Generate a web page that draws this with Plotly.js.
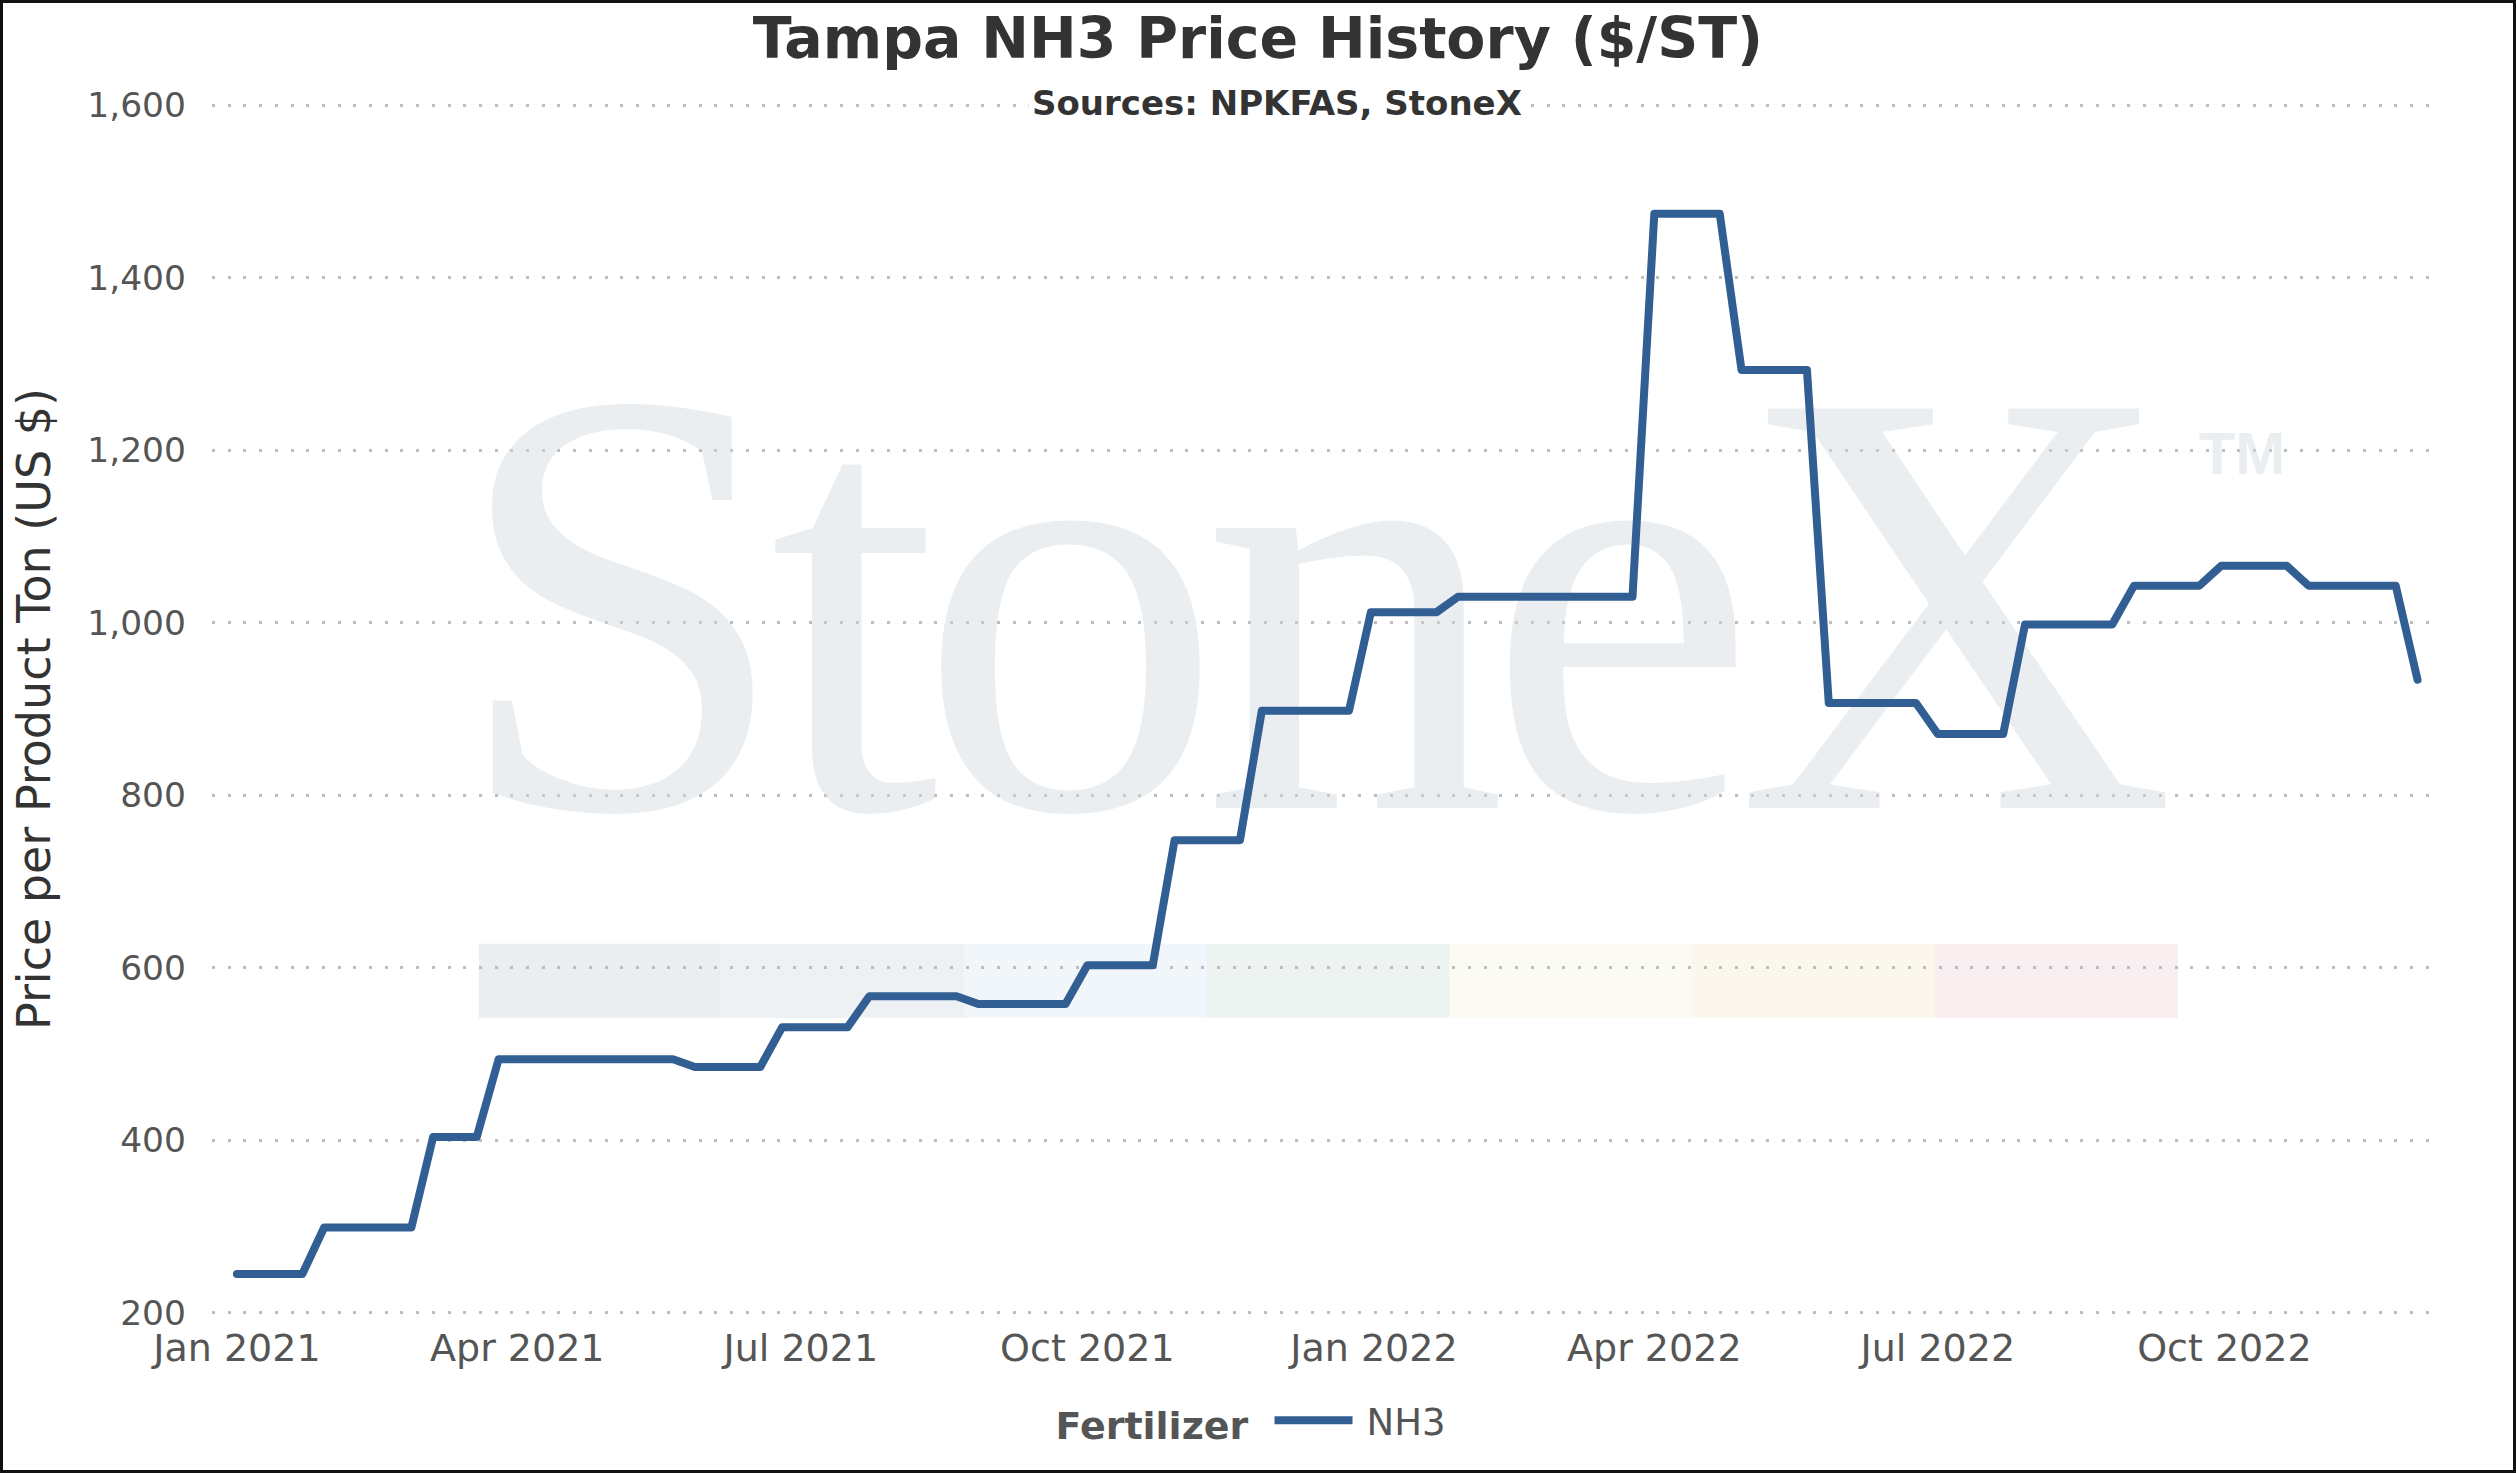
<!DOCTYPE html>
<html>
<head>
<meta charset="utf-8">
<script src="https://cdn.plot.ly/plotly-3.0.1.min.js"></script>
<style>
  html, body { margin: 0; padding: 0; background: #fff; }
  #wrap { position: relative; width: 2516px; height: 1473px; }
  #graf { width: 2516px; height: 1473px; }
  #frame { position: absolute; left: 0; top: 0; right: 0; bottom: 0; border: 3px solid #111; pointer-events: none; }
  .scatterlayer .js-line { stroke-linecap: round; stroke-linejoin: round; }
</style>
</head>
<body>
<div id="wrap">
  <div id="graf"></div>
  <div id="frame"></div>
</div>
<script>
// weekly Tampa NH3 prices, $/short ton
let weekDates = [
  '2021-01-01','2021-01-08','2021-01-15','2021-01-22','2021-01-29',
  '2021-02-05','2021-02-12','2021-02-19','2021-02-26',
  '2021-03-05','2021-03-12','2021-03-19','2021-03-26',
  '2021-04-02','2021-04-09','2021-04-16','2021-04-23','2021-04-30',
  '2021-05-07','2021-05-14','2021-05-21','2021-05-28',
  '2021-06-04','2021-06-11','2021-06-18','2021-06-25',
  '2021-07-02','2021-07-09','2021-07-16','2021-07-23','2021-07-30',
  '2021-08-06','2021-08-13','2021-08-20','2021-08-27',
  '2021-09-03','2021-09-10','2021-09-17','2021-09-24',
  '2021-10-01','2021-10-08','2021-10-15','2021-10-22','2021-10-29',
  '2021-11-05','2021-11-12','2021-11-19','2021-11-26',
  '2021-12-03','2021-12-10','2021-12-17','2021-12-24','2021-12-31',
  '2022-01-07','2022-01-14','2022-01-21','2022-01-28',
  '2022-02-04','2022-02-11','2022-02-18','2022-02-25',
  '2022-03-04','2022-03-11','2022-03-18','2022-03-25',
  '2022-04-01','2022-04-08','2022-04-15','2022-04-22','2022-04-29',
  '2022-05-06','2022-05-13','2022-05-20','2022-05-27',
  '2022-06-03','2022-06-10','2022-06-17','2022-06-24',
  '2022-07-01','2022-07-08','2022-07-15','2022-07-22','2022-07-29',
  '2022-08-05','2022-08-12','2022-08-19','2022-08-26',
  '2022-09-02','2022-09-09','2022-09-16','2022-09-23','2022-09-30',
  '2022-10-07','2022-10-14','2022-10-21','2022-10-28',
  '2022-11-04','2022-11-11','2022-11-18','2022-11-25',
  '2022-12-02'
];

let nh3Price = [
  245,245,245,245,299,
  299,299,299,299,
  404,404,404,494,
  494,494,494,494,494,
  494,494,494,485,
  485,485,485,531,
  531,531,531,567,567,
  567,567,567,558,
  558,558,558,558,
  603,603,603,603,748,
  748,748,748,898,
  898,898,898,898,1012,
  1012,1012,1012,1030,
  1030,1030,1030,1030,
  1030,1030,1030,1030,
  1474,1474,1474,1474,1293,
  1293,1293,1293,907,
  907,907,907,907,
  871,871,871,871,998,
  998,998,998,998,
  1043,1043,1043,1043,1066,
  1066,1066,1066,1043,
  1043,1043,1043,1043,
  934
];

let seriesName = 'NH3';
let yTicks = [200, 400, 600, 800, 1000, 1200, 1400, 1600];

// logo stripe behind the plot (paper coords)
let stripeColors = ['#ebeef1','#edf1f4','#f1f6fa','#edf3f0','#fbfbf3','#fbf7ed','#f9eef0'];
let stripeLeft = 0.1201, stripeStep = 0.10923;

let font = 'DejaVu Sans, Verdana, sans-serif';
let lineColor = '#325f93';

// StoneX watermark, drawn first so the price line sits on top of it
let watermark = {
    x: ['2021-12-09 07:00', '2022-10-06 16:00'],
    y: [962, 1190],
    text: ['<span style="letter-spacing:-21px">StoneX</span>', '<b>TM</b>'],
    mode: 'text',
    type: 'scatter',
    textposition: 'middle center',
    textfont: {
        family: ['Liberation Serif, Times New Roman, serif', 'Liberation Sans, Arial, sans-serif'],
        size: [610, 60],
        color: 'rgba(208,217,224,0.45)'
    },
    cliponaxis: false,
    hoverinfo: 'skip',
    showlegend: false
};

let trace1 = {
    x: weekDates,
    y: nh3Price,
    type: 'scatter',
    mode: 'lines',
    name: seriesName,
    line: {
        color: lineColor,
        width: 8
    }
};

let shapes = stripeColors.map((c, i) => ({
    type: 'rect',
    xref: 'paper', yref: 'paper',
    x0: stripeLeft + i * stripeStep,
    x1: stripeLeft + (i + 1) * stripeStep,
    y0: 0.2453, y1: 0.3064,
    fillcolor: c,
    line: {width: 0},
    layer: 'below'
}));

let layout = {
    width: 2516,
    height: 1473,
    autosize: false,
    margin: {l: 212, r: 82, t: 103, b: 158},
    paper_bgcolor: '#fff',
    plot_bgcolor: '#fff',
    font: {family: font, color: '#555'},
    title: {
        text: '<b>Tampa NH3 Price History ($/ST)</b>',
        font: {family: font, size: 57, color: '#333'},
        x: 0.5, xref: 'container', xanchor: 'center',
        y: 0.9877, yref: 'container', yanchor: 'top'
    },
    xaxis: {
        type: 'date',
        range: ['2020-12-24', '2022-12-07 07:00'],
        tick0: '2021-01-01',
        dtick: 'M3',
        tickformat: '%b %Y',
        showgrid: false,
        zeroline: false,
        showline: false,
        ticks: '',
        ticklabelstandoff: 7,
        tickfont: {family: font, size: 38, color: '#555'}
    },
    yaxis: {
        // padded a touch so the 200 and 1,600 grid lines are kept
        range: [197.6, 1602.4],
        tickmode: 'array',
        tickvals: yTicks,
        tickformat: ',d',
        showgrid: true,
        gridcolor: '#bdbdbd',
        gridwidth: 3,
        griddash: '3px,12.7px',
        zeroline: false,
        showline: false,
        ticks: '',
        ticklabelstandoff: 25,
        tickfont: {family: font, size: 34.5, color: '#555'},
        title: {
            text: 'Price per Product Ton (US $)',
            font: {family: font, size: 46, color: '#333'},
            standoff: 22
        }
    },
    showlegend: true,
    legend: {
        orientation: 'h',
        xref: 'container', x: 0.4978, xanchor: 'center',
        yref: 'container', y: 0.0355, yanchor: 'middle',
        itemwidth: 100,
        title: {text: '<b>Fertilizer</b>', side: 'left', font: {family: font, size: 38, color: '#555'}},
        font: {family: font, size: 37, color: '#555'},
        bgcolor: 'rgba(0,0,0,0)'
    },
    shapes: shapes,
    annotations: [{
        text: '<b>Sources: NPKFAS, StoneX</b>',
        xref: 'paper', yref: 'paper',
        x: 0.4793, y: 0.9998,
        xanchor: 'center', yanchor: 'middle',
        showarrow: false,
        bgcolor: '#fff',
        borderpad: 3,
        font: {family: font, size: 34, color: '#333'}
    }],
    hovermode: false
};

graf = document.getElementById('graf');
Plotly.newPlot(graf, [watermark, trace1], layout, {displayModeBar: false, responsive: false}).then(() => {
    // longer legend sample, like the original
    graf.querySelectorAll('.legendlines path').forEach(p => p.setAttribute('d', 'M18,0h78'));
});
</script>
</body>
</html>
